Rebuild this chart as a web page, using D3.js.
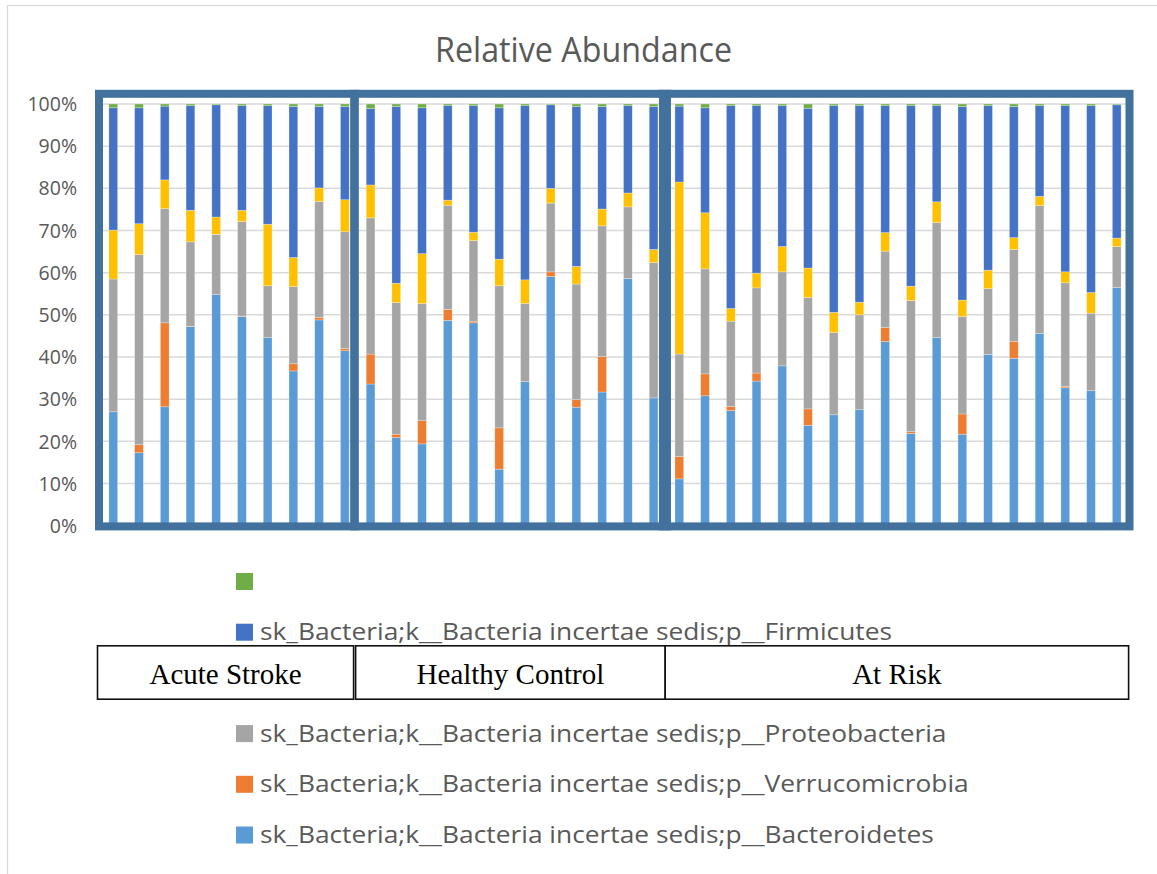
<!DOCTYPE html>
<html>
<head>
<meta charset="utf-8">
<script src="https://cdn.jsdelivr.net/npm/d3@7"></script>
<style>
  html, body { margin: 0; padding: 0; background: #fff; }
  svg { display: block; }
</style>
</head>
<body>
<svg id="chart" width="1157" height="874"></svg>
<script>
// Samples, grouped by cohort
const samples = [
  "AS01","AS02","AS03","AS04","AS05","AS06","AS07","AS08","AS09","AS10",
  "HC01","HC02","HC03","HC04","HC05","HC06","HC07","HC08","HC09","HC10","HC11","HC12",
  "AR01","AR02","AR03","AR04","AR05","AR06","AR07","AR08","AR09","AR10","AR11","AR12",
  "AR13","AR14","AR15","AR16","AR17","AR18"
];
const groupNames = ["Acute Stroke", "Healthy Control", "At Risk"];
const groupSizes = [10, 12, 18];

// Relative abundance (%) per phylum, in stacking order from the bottom
const bacteroidetes = [27.0,17.3,28.2,47.2,54.8,49.6,44.6,36.7,48.8,41.5,
  33.6,20.9,19.4,48.7,48.1,13.4,34.2,59.1,28.1,31.7,58.6,30.3,
  11.1,30.8,27.3,34.3,37.9,23.8,26.3,27.5,43.7,21.9,44.6,21.7,40.6,39.7,45.6,32.7,32.0,56.5];
const verrucomicrobia = [0.0,1.9,19.9,0.1,0.0,0.1,0.0,1.7,0.6,0.5,
  7.1,0.8,5.5,2.6,0.4,9.8,0.0,1.1,1.8,8.4,0.0,0.0,
  5.3,5.2,1.0,1.9,0.0,3.9,0.0,0.0,3.3,0.4,0.0,4.8,0.0,4.0,0.0,0.3,0.0,0.0];
const proteobacteria = [31.5,45.1,27.1,20.0,14.3,22.4,12.3,18.3,27.5,27.7,
  32.3,31.2,27.8,24.7,19.1,33.7,18.5,16.3,27.4,31.0,17.0,32.1,
  24.3,24.9,20.2,20.2,22.3,26.4,19.5,22.5,18.1,31.1,27.3,23.1,15.6,21.8,30.3,24.6,18.4,9.7];
const otherPhylum = [11.6,7.3,6.8,7.5,4.1,2.7,14.6,6.9,3.2,7.6,
  7.8,4.6,11.8,1.2,2.0,6.3,5.6,3.5,4.2,4.0,3.3,3.1,
  40.8,13.3,3.0,3.5,6.0,7.0,4.8,3.0,4.4,3.4,4.9,3.9,4.4,2.8,2.2,2.6,4.9,2.0];
const firmicutes = [29.0,27.5,17.5,24.8,26.6,24.8,28.1,35.8,19.3,22.1,
  18.1,41.9,34.6,22.5,30.0,35.9,41.3,19.8,37.9,24.3,20.7,33.9,
  18.0,24.9,48.1,39.7,33.4,37.9,49.0,46.6,30.1,42.8,22.8,45.9,39.0,31.1,21.5,39.4,44.3,31.6];
const unassigned = [0.9,0.9,0.5,0.4,0.2,0.4,0.4,0.6,0.6,0.6,
  1.1,0.6,0.9,0.3,0.4,0.9,0.4,0.2,0.6,0.6,0.4,0.6,
  0.5,0.9,0.4,0.4,0.4,1.0,0.4,0.4,0.4,0.4,0.4,0.6,0.4,0.6,0.4,0.4,0.4,0.2];

const seriesKeys = ["bacteroidetes","verrucomicrobia","proteobacteria","other","firmicutes","unassigned"];
const seriesValues = [bacteroidetes, verrucomicrobia, proteobacteria, otherPhylum, firmicutes, unassigned];
const seriesLabels = [
  "sk_Bacteria;k__Bacteria incertae sedis;p__Bacteroidetes",
  "sk_Bacteria;k__Bacteria incertae sedis;p__Verrucomicrobia",
  "sk_Bacteria;k__Bacteria incertae sedis;p__Proteobacteria",
  "",
  "sk_Bacteria;k__Bacteria incertae sedis;p__Firmicutes",
  ""
];
const seriesColors = ["#5b9bd5","#ed7d31","#a5a5a5","#ffc000","#4472c4","#70ad47"];
const yTicks = [0,10,20,30,40,50,60,70,80,90,100];
const titleText = "Relative Abundance";

// ---- layout ----
const W = 1157, H = 874;
const plot = { left: 100.4, right: 1129.6, top: 104, bottom: 525.7 };
const textGray = "#595959";
const sansFont = "'Open Sans', 'Noto Sans', sans-serif";

const svg = d3.select("#chart");

// chart area border
svg.append("rect")
  .attr("x", 7.5).attr("y", 5.5).attr("width", W + 10).attr("height", H + 10)
  .attr("fill", "#fff").attr("stroke", "#d9d9d9").attr("stroke-width", 1.25);

const rows = samples.map((s, i) => {
  const r = { sample: s };
  seriesKeys.forEach((k, j) => { r[k] = seriesValues[j][i]; });
  return r;
});

const x = d3.scaleBand().domain(samples)
  .range([plot.left, plot.right]).paddingInner(0.66).paddingOuter(0.33);
const y = d3.scaleLinear().domain([0, 100]).range([plot.bottom, plot.top]);
const color = d3.scaleOrdinal().domain(seriesKeys).range(seriesColors);

// title
const title = svg.append("text")
  .attr("x", W / 2 + 5).attr("y", 61.5)
  .attr("text-anchor", "middle")
  .attr("font-family", sansFont).attr("font-size", 34)
  .attr("fill", textGray).text(titleText);
title.attr("textLength", 297).attr("lengthAdjust", "spacingAndGlyphs");

// gridlines
svg.append("g").selectAll("line").data(yTicks).join("line")
  .attr("x1", plot.left).attr("x2", plot.right)
  .attr("y1", d => y(d)).attr("y2", d => y(d))
  .attr("stroke", "#d9d9d9").attr("stroke-width", 1.5);

// y axis labels
const yAxis = d3.axisLeft(y).tickValues(yTicks).tickFormat(d => d + "%")
  .tickSize(0).tickPadding(23.4);
const yg = svg.append("g").attr("transform", `translate(${plot.left},0)`).call(yAxis);
yg.select(".domain").remove();
yg.selectAll("text")
  .attr("font-family", sansFont).attr("font-size", 19.5)
  .attr("fill", textGray).attr("dy", "0.34em");

// stacked bars
const stacked = d3.stack().keys(seriesKeys)(rows);
svg.append("g").selectAll("g").data(stacked).join("g")
  .attr("fill", d => color(d.key))
  .selectAll("rect").data(d => d).join("rect")
  .attr("x", d => x(d.data.sample))
  .attr("width", x.bandwidth())
  .attr("y", d => y(d[1]))
  .attr("height", d => Math.max(0, y(d[0]) - y(d[1])))
  .attr("stroke", "#ffffff").attr("stroke-opacity", 0.45).attr("stroke-width", 0.6);

// cohort outlines
const step = x.step();
let start = 0;
const groupSpans = groupSizes.map(n => {
  const span = { x0: plot.left + start * step, x1: plot.left + (start + n) * step };
  start += n;
  return span;
});
svg.append("g").selectAll("rect").data(groupSpans).join("rect")
  .attr("x", (d, i) => d.x0 - (i === 0 ? 1.4 : 3.5))
  .attr("y", y(100) - 10.2)
  .attr("width", (d, i) => d.x1 - d.x0 + (i === 0 ? -1.5 : i === 1 ? 4 : 3.4))
  .attr("height", y(0) - y(100) + 10.9)
  .attr("fill", "none").attr("stroke", "#41719c").attr("stroke-width", 8);

// legend (reverse stacking order)
const legendItems = seriesKeys.map((k, i) => ({ key: k, label: seriesLabels[i] })).reverse();
const legend = svg.append("g");
const rowGap = 50.7;
const li = legend.selectAll("g").data(legendItems).join("g")
  .attr("transform", (d, i) => `translate(236,${573 + i * rowGap})`);
li.append("rect").attr("width", 17).attr("height", 17).attr("fill", d => color(d.key));
const lt = li.append("text")
  .attr("x", 24).attr("y", 16.5)
  .attr("font-family", sansFont).attr("font-size", 23)
  .attr("fill", textGray).text(d => d.label);
// condense legend glyphs to a uniform narrow width
const refNode = lt.filter(d => d.key === "firmicutes").node();
const squeeze = 632 / refNode.getComputedTextLength();
lt.each(function () {
  const w = this.getComputedTextLength();
  if (w > 0) d3.select(this).attr("textLength", w * squeeze).attr("lengthAdjust", "spacingAndGlyphs");
});

// cohort label table
const cellEdges = [97.5, 353.6, 355.6, 665.2, 1128.6];
const cells = [
  { x0: cellEdges[0], x1: cellEdges[1], name: groupNames[0] },
  { x0: cellEdges[2], x1: cellEdges[3], name: groupNames[1] },
  { x0: cellEdges[3], x1: cellEdges[4], name: groupNames[2] }
];
const table = svg.append("g");
table.selectAll("rect").data(cells).join("rect")
  .attr("x", d => d.x0).attr("y", 645.8)
  .attr("width", d => d.x1 - d.x0).attr("height", 53.4)
  .attr("fill", "#fff").attr("stroke", "#111").attr("stroke-width", 1.6);
table.selectAll("text").data(cells).join("text")
  .attr("x", d => (d.x0 + d.x1) / 2).attr("y", 684)
  .attr("text-anchor", "middle")
  .attr("font-family", "'Liberation Serif', 'Times New Roman', serif")
  .attr("font-size", 29).attr("fill", "#000")
  .text(d => d.name);
</script>
</body>
</html>
